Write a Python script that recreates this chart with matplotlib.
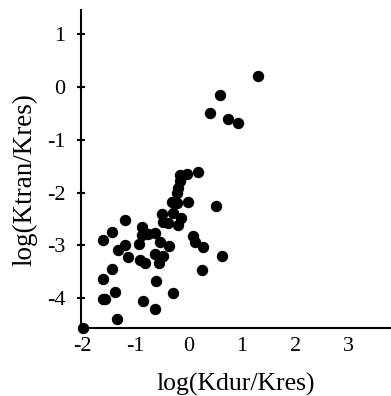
import numpy as np
import matplotlib.pyplot as plt

plt.rcParams['font.family'] = ['Liberation Serif', 'DejaVu Serif']

# log(Kdur/Kres)
kdur = np.array([1.29, 0.59, 0.40, 0.74, 0.93, 0.18, -0.04, -0.16, -0.16, -0.20,
                 -0.23, -0.32, -0.22, -0.01, 0.51, -0.30, -0.50, -0.49, -0.40, -0.15,
                 -0.20, -1.20, -1.45, -1.62, -0.88, -0.89, -0.76, -0.64, -0.54, -0.37,
                 -0.93, -1.20, -1.33, -1.14, -0.64, -0.48, -0.92, -0.83, -0.57, 0.07,
                 0.11, 0.26, 0.63, 0.24, -1.45, -1.62, -0.61, -1.39, -1.62, -1.58,
                 -0.87, -0.30, -0.64, -1.36, -1.99])
# log(Ktran/Kres)
ktran = np.array([0.21, -0.15, -0.49, -0.60, -0.68, -1.62, -1.65, -1.66, -1.78, -1.91,
                  -2.01, -2.18, -2.20, -2.18, -2.26, -2.38, -2.41, -2.55, -2.57, -2.48,
                  -2.61, -2.52, -2.75, -2.90, -2.66, -2.80, -2.79, -2.77, -2.93, -3.01,
                  -2.98, -3.00, -3.08, -3.23, -3.16, -3.20, -3.27, -3.34, -3.34, -2.82,
                  -2.93, -3.04, -3.20, -3.46, -3.44, -3.64, -3.68, -3.88, -4.02, -4.02,
                  -4.06, -3.91, -4.21, -4.40, -4.57])

fig = plt.figure(figsize=(3.91, 3.96), dpi=100)
ax = fig.add_axes([0.207, 0.1725, 0.793, 0.8025])

ax.plot(kdur, ktran, 'o', color='black', markersize=7.2, clip_on=False)

ax.set_xlim(-2.03, 3.8)
ax.set_ylim(-4.56, 1.46)
ax.set_xticks([-2, -1, 0, 1, 2, 3])
ax.set_yticks([-4, -3, -2, -1, 0, 1])
ax.set_xticklabels(['-2', '-1', '0', '1', '2', '3'])
ax.set_yticklabels(['-4', '-3', '-2', '-1', '0', '1'])

ax.spines['top'].set_visible(False)
ax.spines['right'].set_visible(False)
ax.spines['left'].set_linewidth(1.5)
ax.spines['bottom'].set_linewidth(1.5)

ax.tick_params(axis='x', length=0, pad=7, labelsize=16)
ax.tick_params(axis='y', direction='inout', length=6, width=1.5, pad=8, labelsize=16)

ax.set_xlabel('log(Kdur/Kres)', fontsize=18.5, labelpad=12)
ax.set_ylabel('log(Ktran/Kres)', fontsize=19.5, labelpad=7)
ax.yaxis.label.set_y(0.465)

fig.savefig('out.png', dpi=100)
